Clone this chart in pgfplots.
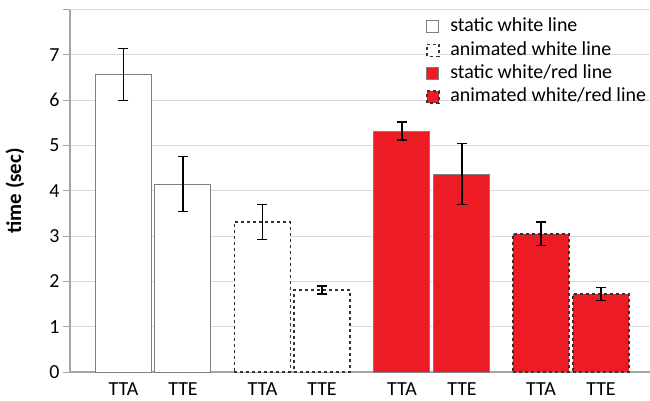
\documentclass[border=0pt]{standalone}
\usepackage{pgfplots}
\pgfplotsset{compat=1.18}
\usepackage{fontspec}
\setmainfont{Carlito}
\definecolor{barred}{HTML}{ED1C24}
\definecolor{gridc}{HTML}{D9D9D9}
\definecolor{axisc}{HTML}{A6A6A6}
\definecolor{edgec}{HTML}{7F7F7F}
\definecolor{dashc}{HTML}{333333}
\begin{document}
\begin{tikzpicture}
\useasboundingbox (-70bp,-29bp) rectangle (580bp,372bp);
\begin{axis}[
  at={(0,0)}, anchor=origin,
  x=1bp, y=45.3bp,
  xmin=0, xmax=585, ymin=0, ymax=8,
  axis x line=bottom, axis y line=left,
  axis line style={axisc, line width=1.2bp, -},
  ytick={0,1,2,3,4,5,6,7,8},
  yticklabels={0,1,2,3,4,5,6,7,{}},
  ymajorgrids, grid style={gridc, line width=0.8bp},
  y tick style={axisc, line width=1bp},
  major tick length=7bp,
  tick align=outside,
  xtick={53.5,113,192.5,252,332,392,471,531},
  xticklabels={TTA,TTE,TTA,TTE,TTA,TTE,TTA,TTE},
  x tick style={draw=none},
  tick label style={font=\fontsize{20}{22}\selectfont},
  /pgf/number format/assume math mode=true,
  ylabel={\textbf{time (sec)}},
  ylabel style={font=\fontsize{21}{24}\selectfont, at={(rel axis cs:0,0.5)}, yshift=55bp, anchor=center},
  ybar, bar width=56, bar shift=0pt,
  clip=false,
  error bars/y dir=both, error bars/y explicit,
  error bars/error bar style={black, solid, line width=1.3bp},
  error bars/error mark options={rotate=90, mark size=5bp, line width=1.3bp, black, solid},
  legend style={at={(axis cs:355,7.9)}, anchor=north west, draw=none, fill=none,
    font=\fontsize{20}{22}\selectfont, row sep=0bp, inner sep=1bp,
    nodes={inner sep=1.65bp, text height=15bp, text depth=5bp},
    /tikz/every odd column/.style={column sep=9bp}},
  legend cell align=left,
  legend image code/.code={\draw[#1] (0bp,-6bp) rectangle (12bp,6bp);},
]
\addplot[draw=edgec, fill=white, line width=1bp] coordinates {
  (53.5,6.57) += (0,0.57) -= (0,0.57)
  (113,4.15) += (0,0.60) -= (0,0.60)
};
\addlegendentry{static white line}
\addplot[draw=dashc, fill=white, line width=1.5bp, dash pattern=on 3bp off 3bp] coordinates {
  (192.5,3.31) += (0,0.39) -= (0,0.39)
  (252,1.81) += (0,0.09) -= (0,0.09)
};
\addlegendentry{animated white line}
\addplot[draw=edgec, fill=barred, line width=1bp] coordinates {
  (332,5.32) += (0,0.20) -= (0,0.20)
  (392,4.37) += (0,0.67) -= (0,0.67)
};
\addlegendentry{static white/red line}
\addplot[draw=dashc, fill=barred, line width=1.5bp, dash pattern=on 3bp off 3bp] coordinates {
  (471,3.05) += (0,0.26) -= (0,0.26)
  (531,1.72) += (0,0.14) -= (0,0.14)
};
\addlegendentry{animated white/red line}
\end{axis}
\end{tikzpicture}
\end{document}
